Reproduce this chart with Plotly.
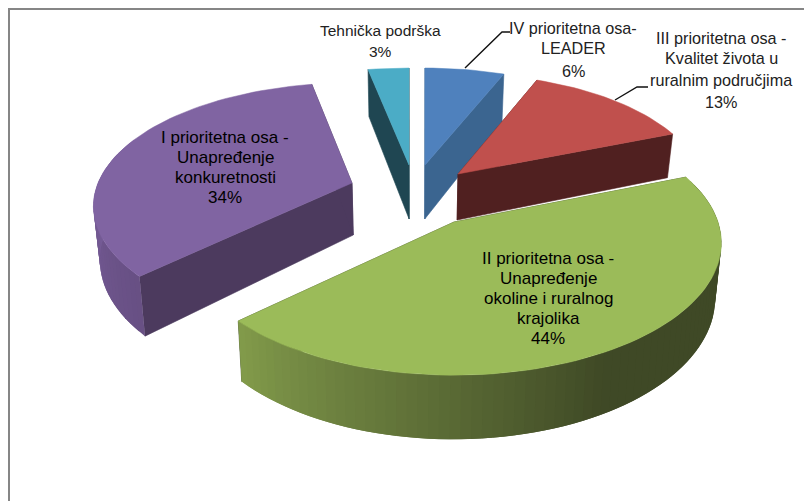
import math
import plotly.graph_objects as go

# ---- data ----
categories = [["IV prioritetna osa-", "LEADER"],
              ["III prioritetna osa -", "Kvalitet života u", "ruralnim područjima"],
              ["II prioritetna osa -", "Unapređenje", "okoline i ruralnog", "krajolika"],
              ["I prioritetna osa -", "Unapređenje", "konkuretnosti"],
              ["Tehnička podrška"]]
values = [6, 13, 44, 34, 3]

# ---- styling / projection of each slice (apex px, radii, perspective, depth) ----
top_colors = ["#4F81BD", "#C0504D", "#9BBB59", "#8064A2", "#4BACC6"]
cut_colors = ["#3B6590", "#502020", "#3E4A26", "#4C3A5E", "#1F4652"]
proj = [(425, 165, 244, 111.5, 0.15, 54),
        (458, 174, 243, 114.4, 0.143, 46),
        (454, 222, 264, 129, 0.158, 54),
        (352, 183, 254, 119, 0.188, 52),
        (409, 165, 251, 111.5, 0.15, 54)]
label_x = [573, 721, 548, 225, 380]
label_lines_y = [[28, 48, 71], [38, 58, 80, 102], [258, 278, 298, 318, 338],
                 [137, 157, 177, 197], [30, 51]]
label_size = [16.2, 16.2, 17, 17, 15.5]
label_color = ["#222", "#222", "#000", "#000", "#222"]
draw_order = [4, 0, 1, 3, 2]
VP_X, BOTTOM_SCALE = 414, 0.98

def lerp(c1, c2, t):
    t = max(0, min(1, t))
    return "rgb(%d,%d,%d)" % tuple(c1[i] + (c2[i] - c1[i]) * t for i in range(3))

arc_shade = {
    2: lambda th: lerp((130, 155, 75), (63, 73, 38), (226 - th) / 76),
    3: lambda th: lerp((104, 80, 132), (125, 98, 160), (th - 227) / 63),
}

fig = go.Figure()

def poly(pts, color, lw=0.6):
    xs = [p[0] for p in pts] + [pts[0][0]]
    ys = [p[1] for p in pts] + [pts[0][1]]
    fig.add_trace(go.Scatter(x=xs, y=ys, mode="lines", fill="toself", fillcolor=color,
                             line=dict(color=color, width=lw), hoverinfo="skip", showlegend=False))

total = sum(values)
edges = [0]
for v in values:
    edges.append(edges[-1] + 360 * v / total)

def top(i, th=None):
    u, v, a, b, k, H = proj[i]
    if th is None:
        return (u, v)
    x, z = math.sin(math.radians(th)), -math.cos(math.radians(th))
    w = 1 - k * z
    return (u + a * x / w, v + b * z / w)

def bottom(i, th=None):
    u, v, a, b, k, H = proj[i]
    px, py = top(i, th)
    w = 1.0
    if th is not None:
        w = 1 + k * math.cos(math.radians(th))
    return (VP_X + (px - VP_X) * BOTTOM_SCALE, py + H / w)

for i in draw_order:
    t0, t1 = edges[i], edges[i + 1]
    # cut faces
    for th in (t0, t1):
        poly([top(i), top(i, th), bottom(i, th), bottom(i)], cut_colors[i])
    # outer wall: strips overlap so that no seams show
    n = max(2, int((t1 - t0) / 2))
    ths = [t0 + (t1 - t0) * j / n for j in range(n + 1)]
    shade = arc_shade.get(i)
    step = (t1 - t0) / n
    for a0, a1 in zip(ths[:-1], ths[1:]):
        mid = (a0 + a1) / 2
        if -math.cos(math.radians(mid)) < -0.35:
            continue
        col = shade(mid) if shade else cut_colors[i]
        poly([top(i, a0), top(i, min(a1 + step, t1)), bottom(i, min(a1 + step, t1)), bottom(i, a0)], col, lw=0)
    # top face
    poly([top(i)] + [top(i, th) for th in ths], top_colors[i], lw=0.5)

# leader lines
leaders = [([465, 502, 510], [68, 32, 32]), ([615, 637, 648], [100, 87, 87])]
for lx, ly in leaders:
    fig.add_trace(go.Scatter(x=lx, y=ly, mode="lines", line=dict(color="#111", width=1.4),
                             hoverinfo="skip", showlegend=False))

# chart frame (left and top only visible)
fig.add_trace(go.Scatter(x=[9, 9, 804], y=[501, 9, 9], mode="lines",
                         line=dict(color="#868686", width=2), hoverinfo="skip", showlegend=False))

for i, lines in enumerate(categories):
    pct = round(100 * values[i] / total)
    for line, y in zip(lines + [f"{pct}%"], label_lines_y[i]):
        fig.add_annotation(x=label_x[i], y=y, xref="x", yref="y", text=line, showarrow=False,
                           xanchor="center", yanchor="middle",
                           font=dict(family="Liberation Sans", size=label_size[i], color=label_color[i]))

fig.update_layout(width=804, height=501, margin=dict(l=0, r=0, t=0, b=0),
                  paper_bgcolor="white", plot_bgcolor="white", showlegend=False,
                  xaxis=dict(range=[0, 804], visible=False, fixedrange=True),
                  yaxis=dict(range=[501, 0], visible=False, fixedrange=True))
fig.write_html("out.html", config={"displayModeBar": False},
               post_script="document.body.style.margin='0';document.documentElement.style.overflow='hidden';")
